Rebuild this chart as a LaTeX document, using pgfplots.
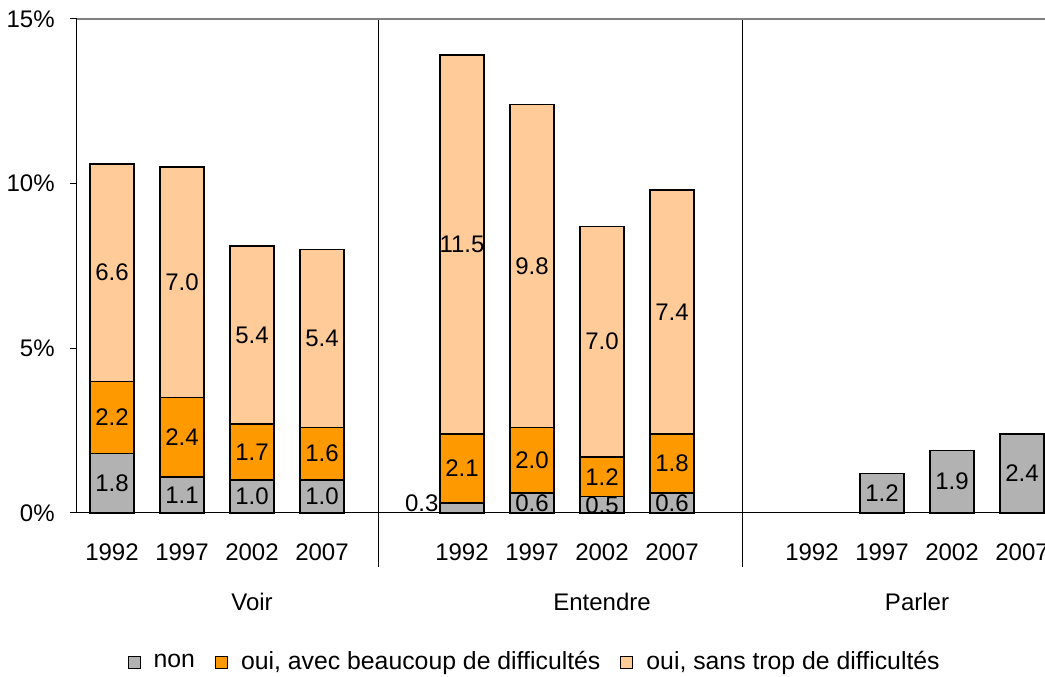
\documentclass[border=0pt]{standalone}
\usepackage{pgfplots}
\usepackage{pgfplotstable}
\pgfplotsset{compat=1.18}
\usepackage{fontspec}
\setmainfont{Liberation Sans}
\definecolor{cnon}{HTML}{B2B2B2}
\definecolor{cbeau}{HTML}{FF9900}
\definecolor{csans}{HTML}{FFCC99}
\definecolor{cframe}{HTML}{808080}

\pgfplotstableread{
x y
0 1.8
1 1.1
2 1.0
3 1.0
5 0.3
6 0.6
7 0.5
8 0.6
10 0
11 1.2
12 1.9
13 2.4
}\tnon

\pgfplotstableread{
x y
0 2.2
1 2.4
2 1.7
3 1.6
5 2.1
6 2.0
7 1.2
8 1.8
10 0
11 0
12 0
13 0
}\tbeau

\pgfplotstableread{
x y
0 6.6
1 7.0
2 5.4
3 5.4
5 11.5
6 9.8
7 7.0
8 7.4
10 0
11 0
12 0
13 0
}\tsans

% label positions (middle of each segment) and texts
\pgfplotstableread{
x y lab
0 0.9 1.8
1 0.55 1.1
2 0.5 1.0
3 0.5 1.0
6 0.3 0.6
7 0.25 0.5
8 0.3 0.6
11 0.6 1.2
12 0.95 1.9
13 1.2 2.4
0 2.9 2.2
1 2.3 2.4
2 1.85 1.7
3 1.8 1.6
5 1.35 2.1
6 1.6 2.0
7 1.1 1.2
8 1.5 1.8
0 7.3 6.6
1 7.0 7.0
2 5.4 5.4
3 5.3 5.4
5 8.15 11.5
6 7.5 9.8
7 5.2 7.0
8 6.1 7.4
}\tlab

\pgfplotsset{
  mylegend/.style={legend image code/.code={
    \draw[##1, draw=black, line width=0.5pt] (0pt,-3pt) rectangle (6pt,3pt);}},
}

\begin{document}
\fontsize{12pt}{14pt}\selectfont
\begin{tikzpicture}
\begin{axis}[
  name=ax,
  scale only axis, width=490pt, height=247pt,
  ybar stacked, bar width=22pt,
  xmin=-0.5, xmax=13.5, ymin=0, ymax=15,
  axis lines=left, axis line style={-, line width=0.5pt},
  clip=false,
  ytick={0,5,10,15}, yticklabels={0\%,5\%,10\%,15\%},
  ytick style={line width=0.5pt, black},
  tick align=outside, major tick length=3.5pt,
  yticklabel style={anchor=east, inner sep=0pt, xshift=-7.5pt},
  xtick={0,1,2,3,5,6,7,8,10,11,12,13},
  xticklabels={1992,1997,2002,2007,1992,1997,2002,2007,1992,1997,2002,2007},
  xtick style={draw=none},
  xticklabel style={anchor=base, inner sep=0pt, yshift=-20.3pt},
  legend style={at={(0.468,-0.302)}, anchor=center, draw=none, fill=none,
    legend columns=3, font=\fontsize{12.4pt}{14pt}\selectfont,
    /tikz/every odd column/.append style={column sep=4.5pt},
    /tikz/every even column/.append style={column sep=8pt},
    legend cell align=left},
]
\addplot[fill=cnon, draw=black, line width=0.75pt, mylegend] table[x=x, y=y] {\tnon};
\addlegendentry{non}
\addplot[fill=cbeau, draw=black, line width=0.75pt, mylegend] table[x=x, y=y] {\tbeau};
\addlegendentry{oui, avec beaucoup de difficultés}
\addplot[fill=csans, draw=black, line width=0.75pt, mylegend] table[x=x, y=y] {\tsans};
\addlegendentry{oui, sans trop de difficultés}

\draw[cframe, line width=0.6pt] (axis cs:-0.5,15) -- (axis cs:13.5,15);
\node[anchor=east, inner sep=0pt] at (axis cs:4.67,0.3) {0.3};

\draw[black, line width=0.5pt] (axis cs:3.81,15) -- (axis cs:3.81,0) -- ++(0pt,-27pt);
\draw[black, line width=0.5pt] (axis cs:9.01,15) -- (axis cs:9.01,0) -- ++(0pt,-27pt);

\node[anchor=base] at ([yshift=-48.7pt]axis cs:2,0) {Voir};
\node[anchor=base] at ([yshift=-48.7pt]axis cs:7,0) {Entendre};
\node[anchor=base] at ([yshift=-48.7pt]axis cs:11.5,0) {Parler};
\end{axis}
\begin{axis}[
  at={(ax.south west)}, anchor=south west,
  scale only axis, width=490pt, height=247pt,
  xmin=-0.5, xmax=13.5, ymin=0, ymax=15,
  hide axis, clip=false,
]
\addplot[draw=none, mark=none, nodes near coords, point meta=explicit symbolic,
  every node near coord/.append style={anchor=center, inner sep=0pt}]
  table[x=x, y=y, meta=lab] {\tlab};
\end{axis}
\pgfresetboundingbox
\path ([shift={(-38.5pt,-82pt)}]ax.south west) rectangle ([shift={(-6pt,9.5pt)}]ax.north east);
\end{tikzpicture}
\end{document}
